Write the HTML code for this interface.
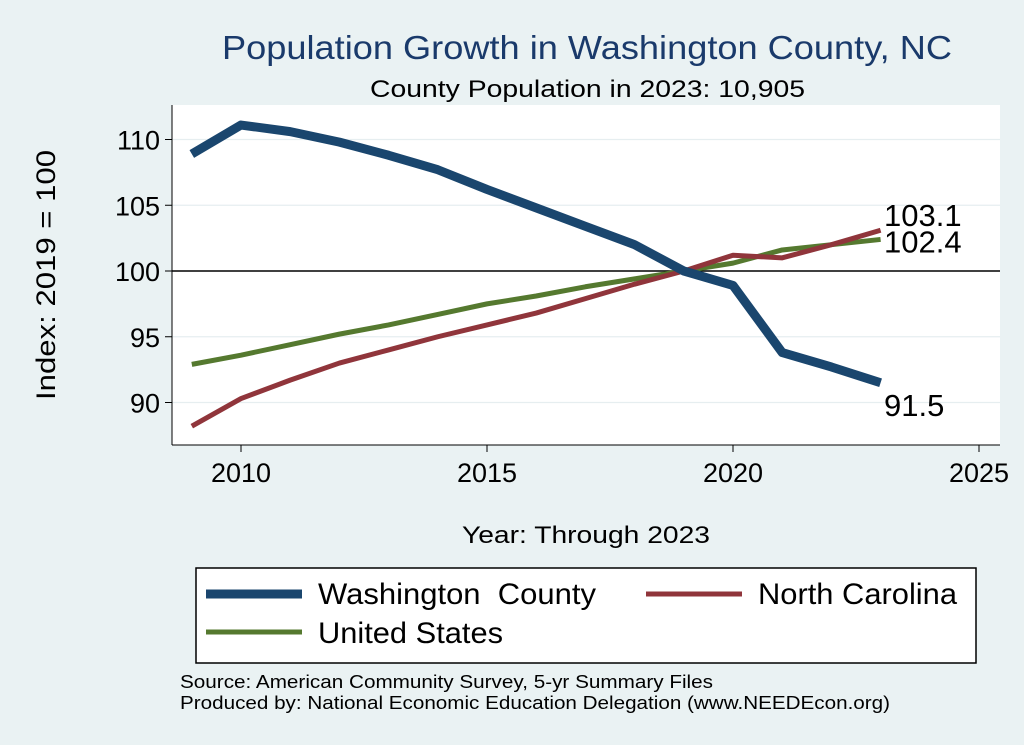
<!DOCTYPE html>
<html><head><meta charset="utf-8"><style>
body{margin:0;background:#eaf2f3;}
svg{display:block;font-family:"Liberation Sans",Arial,sans-serif;}
</style></head><body>
<svg id="chart" width="1024" height="745">
<rect x="0" y="0" width="1024" height="745" fill="#eaf2f3"/>
<text x="222" y="59" font-size="33" textLength="730" lengthAdjust="spacingAndGlyphs" fill="#1a3a6b">Population Growth in Washington County, NC</text>
<text x="370" y="97" font-size="24" textLength="435" lengthAdjust="spacingAndGlyphs" fill="#000">County Population in 2023: 10,905</text>
<rect x="172" y="105" width="828" height="340" fill="#fff"/>
<g id="grid"></g>
<g id="axes"></g>
<g id="series"></g>
<text transform="translate(55,400) rotate(-90)" font-size="27" textLength="250" lengthAdjust="spacingAndGlyphs">Index: 2019 = 100</text>
<text x="462" y="543" font-size="24" textLength="248" lengthAdjust="spacingAndGlyphs">Year: Through 2023</text>
<g>
<rect x="196" y="568" width="780" height="95" fill="#fff" stroke="#000" stroke-width="1.5"/>
<line x1="206" y1="594" x2="302" y2="594" stroke="#1a466e" stroke-width="9"/>
<text x="318" y="604" font-size="30" textLength="278" lengthAdjust="spacingAndGlyphs">Washington&#160; County</text>
<line x1="646" y1="594" x2="742" y2="594" stroke="#90353b" stroke-width="5"/>
<text x="758" y="604" font-size="30" textLength="199" lengthAdjust="spacingAndGlyphs">North Carolina</text>
<line x1="206" y1="632" x2="302" y2="632" stroke="#55792f" stroke-width="5"/>
<text x="318" y="643" font-size="30" textLength="185" lengthAdjust="spacingAndGlyphs">United States</text>
</g>
<text x="180" y="688" font-size="18" textLength="533" lengthAdjust="spacingAndGlyphs">Source: American Community Survey, 5-yr Summary Files</text>
<text x="180" y="709" font-size="18" textLength="710" lengthAdjust="spacingAndGlyphs">Produced by: National Economic Education Delegation (www.NEEDEcon.org)</text>
</svg>
<script>
const years=[2009,2010,2011,2012,2013,2014,2015,2016,2017,2018,2019,2020,2021,2022,2023];
const washington=[108.9,111.1,110.6,109.8,108.8,107.7,106.2,104.8,103.4,102.0,100,98.9,93.8,92.7,91.5];
const northCarolina=[88.2,90.3,91.7,93.0,94.0,95.0,95.9,96.8,97.9,99.0,100,101.2,101.0,102.0,103.1];
const unitedStates=[92.9,93.6,94.4,95.2,95.9,96.7,97.5,98.1,98.8,99.4,100,100.6,101.6,102.0,102.4];
const xTicks=[2010,2015,2020,2025];
const yTicks=[90,95,100,105,110];
const NS="http://www.w3.org/2000/svg";
function xs(v){return 241+(v-2010)*49.2;}
function ys(v){return 271-(v-100)*13.15;}
function mk(tag,attrs,parent){const e=document.createElementNS(NS,tag);for(const k in attrs)e.setAttribute(k,attrs[k]);document.getElementById(parent).appendChild(e);return e;}
yTicks.forEach(t=>{
  const g=mk('line',{x1:172,x2:1000,y1:ys(t),y2:ys(t),stroke:t===100?'#000':'#e6eef0','stroke-width':t===100?1.5:1.2},'grid');
  
  
  const tk=mk('line',{x1:165,x2:172,y1:ys(t),y2:ys(t),stroke:'#000'},'axes');
  
  
  const l=mk('text',{x:160,y:ys(t)+10,'text-anchor':'end','font-size':27},'axes');
  l.textContent=t;
  
  
});
const ya=mk('line',{x1:172,x2:172,y1:105,y2:445,stroke:'#000'},'axes');


const xa=mk('line',{x1:172,x2:1000,y1:445,y2:445,stroke:'#000'},'axes');


xTicks.forEach(t=>{
  const tk=mk('line',{x1:xs(t),x2:xs(t),y1:445,y2:452,stroke:'#000'},'axes');
  
  
  const l=mk('text',{x:xs(t),y:482,'text-anchor':'middle','font-size':27},'axes');
  l.textContent=t;
  
  
});
function line(vals,color,w,name){
  const p=mk('polyline',{points:vals.map((v,i)=>xs(years[i])+','+ys(v)).join(' '),fill:'none',stroke:color,'stroke-width':w,'stroke-linejoin':'round'},'series');
  
  
}
line(unitedStates,'#55792f',5,'line-united-states');
line(northCarolina,'#90353b',5,'line-north-carolina');
line(washington,'#1a466e',9,'line-washington-county');
const last=years.length-1;
function lab(v,dy,name){
  const l=mk('text',{x:884,y:ys(v)+dy,'font-size':31},'series');
  l.textContent=v.toFixed(1);
  
  
}
lab(northCarolina[last],-4,'end-label-north-carolina');
lab(unitedStates[last],13,'end-label-united-states');
lab(washington[last],33,'end-label-washington-county');
</script>
</body></html>
